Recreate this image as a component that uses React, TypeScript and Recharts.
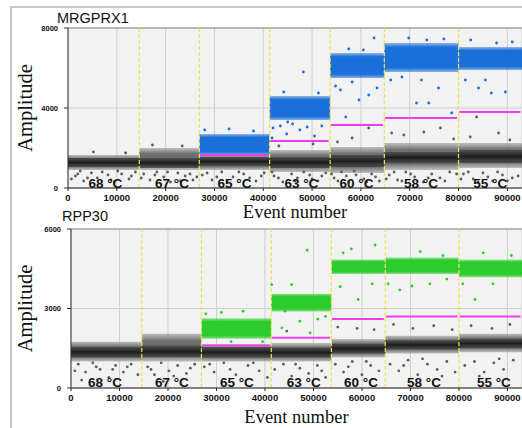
import React from 'react';
import {
  ScatterChart, Scatter, XAxis, YAxis, CartesianGrid,
  ReferenceArea, ReferenceLine, ReferenceDot,
} from 'recharts';

// ---------- shared ----------
const segStart = [0, 14600, 26900, 41300, 53700, 64800, 80000];
const segEnd = [14600, 26900, 41300, 53700, 64800, 80000, 93000];
const boundaries = [14600, 26900, 41300, 53700, 64800, 80000];
const tempLabels = ['68 °C', '67 °C', '65 °C', '63 °C', '60 °C', '58 °C', '55 °C'];
const xTicks = [0, 10000, 20000, 30000, 40000, 50000, 60000, 70000, 80000, 90000];

// ---------- MRGPRX1 ----------
const mrgYTicks = [0, 4000, 8000];
const mrgTempX = [7650, 21300, 34100, 47800, 59100, 72300, 86500];
const mrgTempY = 250;
const mrgHaloLow = [900, 900, 900, 800, 750, 900, 1000];
const mrgHaloHigh = [1650, 2000, 1700, 1900, 2050, 2250, 2250];
const mrgCoreLow = [1050, 1000, 1100, 1000, 1050, 1250, 1250];
const mrgCoreHigh = [1500, 1500, 1550, 1550, 1650, 1800, 1900];
const mrgPosLow = [null, null, 1650, 3400, 5500, 5800, 5900];
const mrgPosHigh = [null, null, 2700, 4600, 6750, 7250, 7050];
const mrgThreshold = [null, null, 1650, 2350, 3150, 3500, 3800];
const mrgNegDots = [
  { x: 1500, y: 600 }, { x: 3200, y: 350 }, { x: 4800, y: 750 }, { x: 6000, y: 500 }, { x: 8200, y: 650 },
  { x: 9500, y: 300 }, { x: 11000, y: 700 }, { x: 12500, y: 450 }, { x: 13800, y: 800 }, { x: 2500, y: 850 },
  { x: 10200, y: 850 }, { x: 5200, y: 1800 }, { x: 11800, y: 1750 },
  { x: 700, y: 450 }, { x: 2000, y: 700 }, { x: 4000, y: 500 }, { x: 7000, y: 800 }, { x: 8800, y: 400 }, { x: 13000, y: 600 },
  { x: 15500, y: 700 }, { x: 16800, y: 400 }, { x: 18200, y: 800 }, { x: 19600, y: 550 }, { x: 21000, y: 300 },
  { x: 22500, y: 750 }, { x: 24000, y: 600 }, { x: 25600, y: 400 }, { x: 17300, y: 2150 }, { x: 23400, y: 2100 },
  { x: 15000, y: 500 }, { x: 17800, y: 650 }, { x: 20400, y: 800 }, { x: 23000, y: 350 }, { x: 25000, y: 700 }, { x: 26400, y: 550 },
  { x: 27500, y: 650 }, { x: 29500, y: 400 }, { x: 31500, y: 800 }, { x: 33800, y: 550 }, { x: 36000, y: 700 },
  { x: 38500, y: 350 }, { x: 40200, y: 750 },
  { x: 28500, y: 750 }, { x: 30500, y: 550 }, { x: 32600, y: 350 }, { x: 35000, y: 800 }, { x: 37200, y: 500 }, { x: 39600, y: 600 },
  { x: 42200, y: 600 }, { x: 44000, y: 300 }, { x: 45800, y: 700 }, { x: 47000, y: 500 }, { x: 49500, y: 650 },
  { x: 51200, y: 350 }, { x: 52800, y: 750 }, { x: 43200, y: 2100 }, { x: 50200, y: 2200 },
  { x: 41800, y: 800 }, { x: 43100, y: 500 }, { x: 46500, y: 350 }, { x: 48300, y: 800 }, { x: 50000, y: 450 }, { x: 52000, y: 600 },
  { x: 54500, y: 500 }, { x: 56000, y: 800 }, { x: 57500, y: 300 }, { x: 59000, y: 650 }, { x: 60600, y: 450 },
  { x: 62200, y: 700 }, { x: 63800, y: 350 }, { x: 58200, y: 2500 }, { x: 61600, y: 3000 }, { x: 55200, y: 2300 },
  { x: 54000, y: 700 }, { x: 55300, y: 350 }, { x: 57000, y: 600 }, { x: 58600, y: 850 }, { x: 61200, y: 300 }, { x: 63000, y: 550 },
  { x: 65800, y: 650 }, { x: 67500, y: 400 }, { x: 69200, y: 800 }, { x: 71000, y: 550 }, { x: 72800, y: 300 },
  { x: 74500, y: 700 }, { x: 76200, y: 500 }, { x: 78200, y: 800 }, { x: 66300, y: 2750 }, { x: 68800, y: 2650 },
  { x: 72900, y: 2800 }, { x: 76300, y: 3000 }, { x: 79000, y: 2450 },
  { x: 65200, y: 450 }, { x: 66800, y: 800 }, { x: 68400, y: 350 }, { x: 70200, y: 700 }, { x: 73800, y: 500 },
  { x: 77200, y: 350 }, { x: 79600, y: 700 },
  { x: 81000, y: 700 }, { x: 83000, y: 450 }, { x: 85000, y: 750 }, { x: 87000, y: 350 }, { x: 89000, y: 650 },
  { x: 91000, y: 500 }, { x: 82400, y: 2550 }, { x: 83700, y: 3550 }, { x: 88200, y: 2750 }, { x: 90500, y: 2400 },
  { x: 80500, y: 450 }, { x: 82000, y: 800 }, { x: 84000, y: 300 }, { x: 86000, y: 550 }, { x: 88000, y: 800 },
  { x: 90000, y: 350 }, { x: 92200, y: 600 },
];
const mrgPosDots = [
  { x: 28000, y: 2900 }, { x: 33000, y: 2950 }, { x: 38000, y: 2850 },
  { x: 42000, y: 3000 }, { x: 43500, y: 3100 }, { x: 44800, y: 2700 }, { x: 46000, y: 3200 }, { x: 47500, y: 2900 },
  { x: 49000, y: 3050 }, { x: 50500, y: 2600 }, { x: 52000, y: 3100 }, { x: 45000, y: 3300 }, { x: 48200, y: 5800 },
  { x: 41800, y: 2500 }, { x: 44200, y: 4800 }, { x: 51300, y: 4750 },
  { x: 55800, y: 4900 }, { x: 56900, y: 3550 }, { x: 59600, y: 4400 }, { x: 61600, y: 4650 }, { x: 63300, y: 5000 },
  { x: 58200, y: 5300 }, { x: 62700, y: 7500 }, { x: 54800, y: 5100 }, { x: 57500, y: 6950 }, { x: 60500, y: 6900 },
  { x: 66100, y: 5400 }, { x: 68400, y: 5550 }, { x: 71400, y: 4250 }, { x: 73900, y: 4250 }, { x: 72400, y: 5400 },
  { x: 75900, y: 5000 }, { x: 78600, y: 3750 }, { x: 69800, y: 7500 }, { x: 77000, y: 7450 }, { x: 73500, y: 7400 },
  { x: 81400, y: 5400 }, { x: 84100, y: 5000 }, { x: 86700, y: 4750 }, { x: 89600, y: 4800 }, { x: 85500, y: 5400 },
  { x: 82500, y: 7400 }, { x: 91000, y: 7300 }, { x: 87800, y: 7250 },
];

// ---------- RPP30 ----------
const rppYTicks = [0, 3000, 6000];
const rppTempX = [7000, 20800, 34200, 48000, 59800, 72800, 87200];
const rppTempY = 230;
const rppHaloLow = [1000, 1000, 1000, 1000, 1150, 1300, 1350];
const rppHaloHigh = [1750, 2050, 1650, 1700, 1850, 1970, 2050];
const rppCoreLow = [1150, 1150, 1150, 1150, 1300, 1450, 1500];
const rppCoreHigh = [1550, 1600, 1550, 1530, 1670, 1800, 1860];
const rppPosLow = [null, null, 1860, 2890, 4300, 4300, 4180];
const rppPosHigh = [null, null, 2630, 3560, 4850, 4920, 4850];
const rppThreshold = [null, null, 1600, 1900, 2600, 2700, 2700];
const rppNegDots = [
  { x: 1500, y: 900 }, { x: 3000, y: 600 }, { x: 4500, y: 950 }, { x: 6000, y: 700 }, { x: 7800, y: 400 },
  { x: 9200, y: 850 }, { x: 10800, y: 600 }, { x: 12400, y: 900 }, { x: 13800, y: 500 }, { x: 2200, y: 300 },
  { x: 800, y: 650 }, { x: 5200, y: 800 }, { x: 8600, y: 700 }, { x: 11600, y: 800 },
  { x: 15800, y: 800 }, { x: 17200, y: 500 }, { x: 18600, y: 950 }, { x: 20200, y: 650 }, { x: 22000, y: 850 },
  { x: 23800, y: 550 }, { x: 25500, y: 900 }, { x: 19000, y: 250 }, { x: 16500, y: 700 }, { x: 21200, y: 450 }, { x: 24600, y: 750 },
  { x: 27500, y: 800 }, { x: 29500, y: 600 }, { x: 31500, y: 950 }, { x: 34000, y: 500 }, { x: 36500, y: 850 },
  { x: 38800, y: 650 }, { x: 40500, y: 400 }, { x: 28600, y: 900 }, { x: 32800, y: 700 }, { x: 37600, y: 950 },
  { x: 42000, y: 700 }, { x: 43800, y: 900 }, { x: 45500, y: 450 }, { x: 47200, y: 750 }, { x: 49000, y: 550 },
  { x: 50800, y: 850 }, { x: 52500, y: 400 }, { x: 44500, y: 2150 }, { x: 46300, y: 900 }, { x: 51700, y: 650 },
  { x: 54500, y: 900 }, { x: 56200, y: 600 }, { x: 58000, y: 1000 }, { x: 60000, y: 500 }, { x: 61800, y: 850 },
  { x: 63500, y: 650 }, { x: 55000, y: 2300 }, { x: 59000, y: 2250 }, { x: 62500, y: 2200 }, { x: 57200, y: 800 }, { x: 60900, y: 1000 },
  { x: 65800, y: 900 }, { x: 67600, y: 650 }, { x: 69500, y: 1050 }, { x: 71500, y: 500 }, { x: 73500, y: 900 },
  { x: 75500, y: 700 }, { x: 77500, y: 1000 }, { x: 79200, y: 600 }, { x: 66500, y: 2400 }, { x: 70500, y: 2250 },
  { x: 74800, y: 2350 }, { x: 78600, y: 2200 }, { x: 68600, y: 850 }, { x: 72500, y: 1100 }, { x: 76500, y: 450 },
  { x: 81200, y: 850 }, { x: 83200, y: 1000 }, { x: 85200, y: 600 }, { x: 87200, y: 950 }, { x: 89200, y: 700 },
  { x: 91200, y: 1050 }, { x: 82500, y: 2350 }, { x: 86800, y: 2250 }, { x: 90500, y: 2400 }, { x: 84200, y: 450 }, { x: 88300, y: 1100 },
];
const rppPosDots = [
  { x: 27800, y: 2800 }, { x: 31000, y: 2850 }, { x: 35500, y: 2900 }, { x: 39500, y: 1750 }, { x: 33000, y: 1750 },
  { x: 48700, y: 5200 }, { x: 41400, y: 3900 }, { x: 45500, y: 3900 }, { x: 44100, y: 2900 }, { x: 47200, y: 2520 },
  { x: 49300, y: 2080 }, { x: 50900, y: 2600 }, { x: 43500, y: 2270 }, { x: 52500, y: 2700 },
  { x: 56100, y: 5100 }, { x: 62700, y: 5400 }, { x: 59200, y: 3340 }, { x: 55500, y: 3820 }, { x: 62100, y: 3930 },
  { x: 57800, y: 5250 },
  { x: 65400, y: 3930 }, { x: 67800, y: 3700 }, { x: 74000, y: 3930 }, { x: 77500, y: 4110 }, { x: 76700, y: 5000 },
  { x: 70300, y: 3850 }, { x: 72000, y: 5150 },
  { x: 83300, y: 3340 }, { x: 87000, y: 3930 }, { x: 80800, y: 3930 }, { x: 85000, y: 5100 }, { x: 90800, y: 5000 },
];

const SANS = '"Liberation Sans", Arial, sans-serif';
const SERIF = '"Liberation Serif", "Times New Roman", serif';

const dotShape = (color: string) => (props: any) =>
  <circle cx={props.cx} cy={props.cy} r={1.4} fill={color} />;

type PanelProps = {
  id: string;
  top: number;
  height: number;
  marginTop: number;
  yAxisWidth: number;
  xAxisHeight: number;
  yMax: number;
  yTicks: number[];
  tempX: number[];
  tempY: number;
  haloLow: number[];
  haloHigh: number[];
  coreLow: number[];
  coreHigh: number[];
  posLow: (number | null)[];
  posHigh: (number | null)[];
  threshold: (number | null)[];
  negDots: { x: number; y: number }[];
  posDots: { x: number; y: number }[];
  posColor: string;
  xLabelOffset: number;
};

function Panel(p: PanelProps) {
  return (
    <div style={{ position: 'absolute', left: 0, top: p.top }}>
      <ScatterChart
        width={522}
        height={p.height}
        margin={{ top: p.marginTop, right: 0, bottom: 0, left: 0 }}
      >
        <defs>
          <linearGradient id={`${p.id}-halo`} x1="0" y1="0" x2="0" y2="1">
            <stop offset="0%" stopColor="#8a8a8a" stopOpacity={0.5} />
            <stop offset="25%" stopColor="#6a6a6a" stopOpacity={0.95} />
            <stop offset="75%" stopColor="#5c5c5c" stopOpacity={0.95} />
            <stop offset="100%" stopColor="#8a8a8a" stopOpacity={0.5} />
          </linearGradient>
          <linearGradient id={`${p.id}-core`} x1="0" y1="0" x2="0" y2="1">
            <stop offset="0%" stopColor="#404040" stopOpacity={0.7} />
            <stop offset="50%" stopColor="#1c1c1c" stopOpacity={1} />
            <stop offset="100%" stopColor="#404040" stopOpacity={0.7} />
          </linearGradient>
          <linearGradient id={`${p.id}-pos`} x1="0" y1="0" x2="0" y2="1">
            <stop offset="0%" stopColor={p.posColor} stopOpacity={0.45} />
            <stop offset="15%" stopColor={p.posColor} stopOpacity={1} />
            <stop offset="85%" stopColor={p.posColor} stopOpacity={1} />
            <stop offset="100%" stopColor={p.posColor} stopOpacity={0.5} />
          </linearGradient>
        </defs>
        <CartesianGrid stroke="#cfcfcf" fill="#f2f2f2" strokeWidth={1} />
        <XAxis
          dataKey="x"
          type="number"
          domain={[0, 93000]}
          ticks={xTicks}
          allowDataOverflow
          height={p.xAxisHeight}
          tickSize={3}
          tickMargin={3}
          axisLine={{ stroke: '#222' }}
          tickLine={{ stroke: '#222' }}
          tick={{ fontSize: 9.5, fontWeight: 'bold', fill: '#111', fontFamily: SANS }}
          label={{
            value: 'Event number',
            position: 'insideBottom',
            offset: p.xLabelOffset,
            style: { fontSize: 18.5, fill: '#111', fontFamily: SERIF },
          }}
        />
        <YAxis
          dataKey="y"
          type="number"
          domain={[0, p.yMax]}
          ticks={p.yTicks}
          allowDataOverflow
          width={p.yAxisWidth}
          tickSize={4}
          tickMargin={6}
          axisLine={{ stroke: '#333' }}
          tickLine={{ stroke: '#333' }}
          tick={{ fontSize: 7.5, fontWeight: 'bold', fill: '#111', fontFamily: SANS }}
          label={{
            value: 'Amplitude',
            angle: -90,
            position: 'insideLeft',
            offset: 25,
            style: { fontSize: 20.5, fill: '#111', fontFamily: SERIF, textAnchor: 'middle' },
          }}
        />
        <ReferenceLine y={p.yMax} stroke="#8c8c8c" strokeWidth={1.2} />
        {segStart.map((s, i) => (
          <ReferenceArea key={`h${i}`} x1={s} x2={segEnd[i]} y1={p.haloLow[i]} y2={p.haloHigh[i]}
            fill={`url(#${p.id}-halo)`} fillOpacity={1} stroke="none" />
        ))}
        {segStart.map((s, i) => (
          <ReferenceArea key={`c${i}`} x1={s} x2={segEnd[i]} y1={p.coreLow[i]} y2={p.coreHigh[i]}
            fill={`url(#${p.id}-core)`} fillOpacity={1} stroke="none" />
        ))}
        {segStart.map((s, i) =>
          p.posLow[i] == null ? null : (
            <ReferenceArea key={`p${i}`} x1={s} x2={segEnd[i]} y1={p.posLow[i] as number} y2={p.posHigh[i] as number}
              fill={`url(#${p.id}-pos)`} fillOpacity={1} stroke="none" />
          ))}
        <Scatter data={p.negDots} shape={dotShape('#5c5c5c')} isAnimationActive={false} />
        <Scatter data={p.posDots} shape={dotShape(p.posColor)} isAnimationActive={false} />
        {segStart.map((s, i) =>
          p.threshold[i] == null ? null : (
            <ReferenceLine key={`t${i}`}
              segment={[{ x: s + 150, y: p.threshold[i] as number }, { x: segEnd[i] - 300, y: p.threshold[i] as number }]}
              stroke="#ee3cee" strokeWidth={2} />
          ))}
        {boundaries.map((b) => (
          <ReferenceLine key={`b${b}`} x={b} stroke="#ece25a" strokeWidth={1.2} strokeDasharray="4 2" />
        ))}
        {tempLabels.map((t, i) => (
          <ReferenceDot key={`l${i}`} x={p.tempX[i]} y={p.tempY} r={0} stroke="none" fill="none"
            label={{ value: t, position: 'center', style: { fontSize: 13.5, fontWeight: 'bold', fill: '#111', fontFamily: SANS } }} />
        ))}
      </ScatterChart>
    </div>
  );
}

export default function App() {
  return (
    <div style={{ position: 'absolute', left: 0, top: 0, width: 522, height: 428, overflow: 'hidden', background: '#fff' }}>
      <div style={{ position: 'absolute', left: 10, top: 6, width: 512, height: 2, background: '#c6c6c6' }} />
      <div style={{ position: 'absolute', left: 10, top: 6, width: 2, height: 422, background: '#c6c6c6' }} />
      <Panel
        id="mrg" top={0} height={222} marginTop={28} yAxisWidth={68} xAxisHeight={34}
        yMax={8000} yTicks={mrgYTicks} tempX={mrgTempX} tempY={mrgTempY}
        haloLow={mrgHaloLow} haloHigh={mrgHaloHigh} coreLow={mrgCoreLow} coreHigh={mrgCoreHigh}
        posLow={mrgPosLow} posHigh={mrgPosHigh} threshold={mrgThreshold}
        negDots={mrgNegDots} posDots={mrgPosDots} posColor="#1a6fd8" xLabelOffset={4}
      />
      <Panel
        id="rpp" top={205} height={223} marginTop={24} yAxisWidth={71} xAxisHeight={40}
        yMax={6000} yTicks={rppYTicks} tempX={rppTempX} tempY={rppTempY}
        haloLow={rppHaloLow} haloHigh={rppHaloHigh} coreLow={rppCoreLow} coreHigh={rppCoreHigh}
        posLow={rppPosLow} posHigh={rppPosHigh} threshold={rppThreshold}
        negDots={rppNegDots} posDots={rppPosDots} posColor="#2ccc2c" xLabelOffset={5}
      />
      <div style={{ position: 'absolute', left: 57, top: 10, fontFamily: SANS, fontSize: 14.5, color: '#111', lineHeight: '17px' }}>MRGPRX1</div>
      <div style={{ position: 'absolute', left: 62, top: 208, fontFamily: SANS, fontSize: 14.5, color: '#111', lineHeight: '17px' }}>RPP30</div>
    </div>
  );
}
